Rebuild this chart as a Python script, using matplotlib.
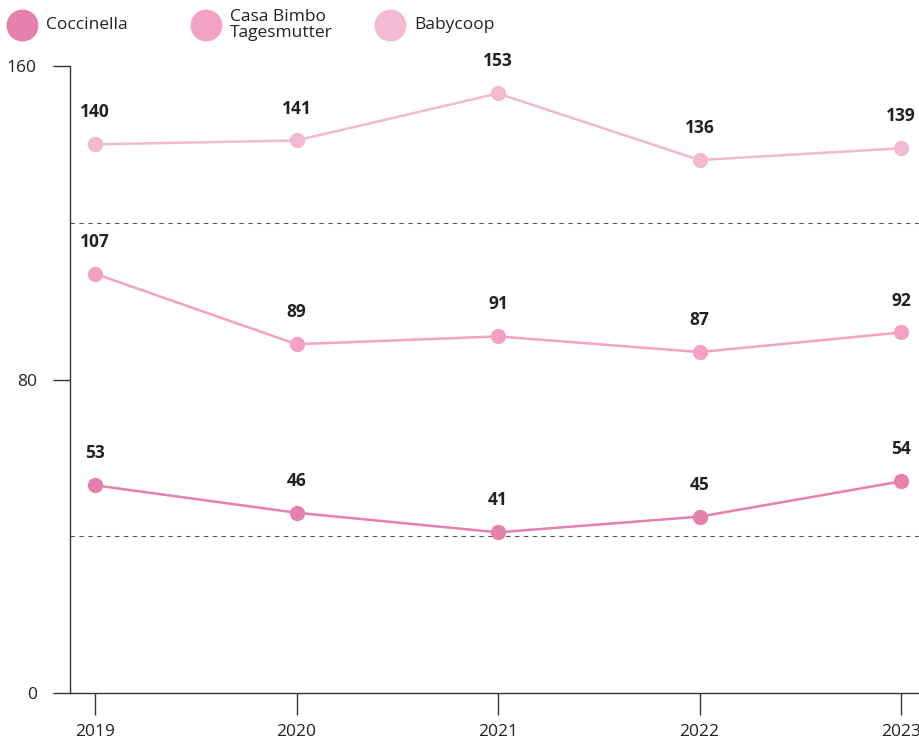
import matplotlib
matplotlib.use("Agg")
import matplotlib.pyplot as plt

years = [2019, 2020, 2021, 2022, 2023]
series_names = ["Coccinella", "Casa Bimbo\nTagesmutter", "Babycoop"]
coccinella = [53, 46, 41, 45, 54]
casa_bimbo = [107, 89, 91, 87, 92]
babycoop = [140, 141, 153, 136, 139]
colors = ["#e680ac", "#f4a2c3", "#f2b9d0"]
y_ticks = [0, 80, 160]
grid_lines = [40, 120]

plt.rcParams['font.family'] = ['Open Sans', 'DejaVu Sans']

fig = plt.figure(figsize=(9.19, 7.42), dpi=100)
ax = fig.add_axes([70/919, 1-693/742, 1-70/919, (693-66)/742])

for vals, c in zip([babycoop, casa_bimbo, coccinella], colors[::-1]):
    ax.plot(years, vals, color=c, lw=1.8, marker='o', markersize=10, zorder=3, clip_on=False)
    for x, v in zip(years, vals):
        ax.annotate(str(v), (x, v), xytext=(0, 23), textcoords='offset points',
                    ha='center', va='center', fontsize=12.5, fontweight='bold', color='#222222')

for g in grid_lines:
    ax.axhline(g, color='#555555', lw=0.8, ls=(0, (4, 4)), zorder=1)

ax.set_xlim(2019 - 25/201.5, 2023 + 18/201.5)
ax.set_ylim(0, 160)
ax.set_yticks(y_ticks)
ax.set_xticks(years)
ax.set_xticklabels([str(y) for y in years])
for s in ['top', 'right']:
    ax.spines[s].set_visible(False)
for s in ['left', 'bottom']:
    ax.spines[s].set_color('#333333')
    ax.spines[s].set_linewidth(1)
ax.tick_params(axis='y', length=12, width=1, color='#333333', labelsize=12.5, labelcolor='#222222', pad=12)
ax.tick_params(axis='x', length=16, width=1, color='#333333', labelsize=12.5, labelcolor='#222222', pad=6)

# legend
leg_x = [22/919, 206/919, 390/919]
txt_x = [46/919, 230/919, 414/919]
for lx, tx, name, c in zip(leg_x, txt_x, series_names, colors):
    fig.lines.append(plt.Line2D([lx], [1-25/742], marker='o', markersize=22, color=c,
                                transform=fig.transFigure, linestyle='none'))
    fig.text(tx, 1-25/742, name, ha='left', va='center', fontsize=12.5, color='#222222',
             linespacing=1.0)

fig.savefig("out.png", dpi=100)
